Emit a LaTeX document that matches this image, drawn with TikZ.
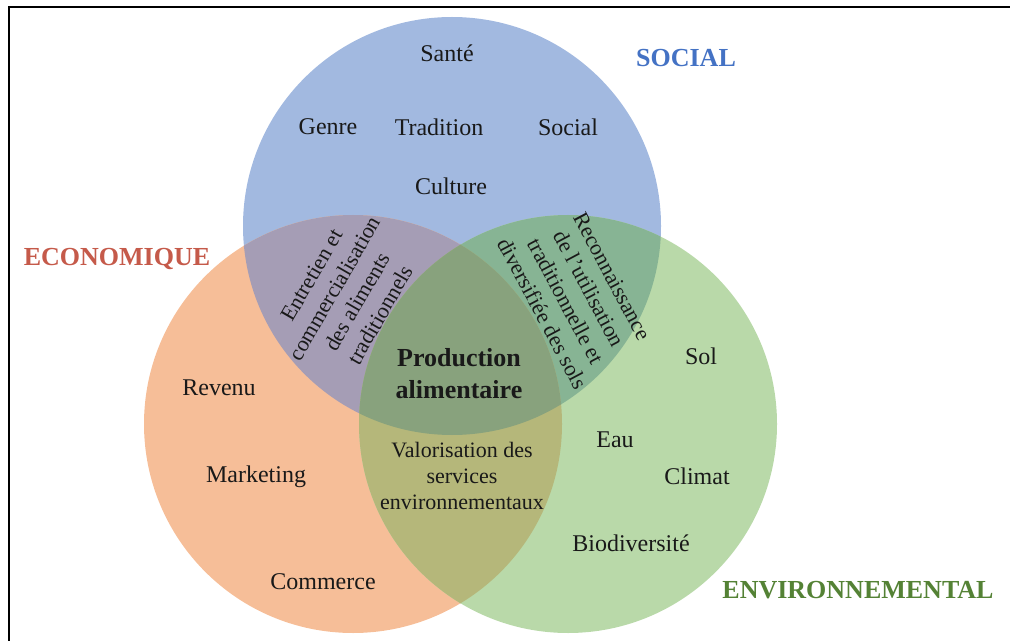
\documentclass[tikz,border=0pt]{standalone}
\usepackage{fontspec}
\setmainfont{Liberation Serif}
\definecolor{socC}{HTML}{A2B9E0}
\definecolor{ecoC}{HTML}{F6BE98}
\definecolor{envC}{HTML}{B9D9A9}
\definecolor{seC}{HTML}{A59DB5}
\definecolor{snC}{HTML}{87B494}
\definecolor{enC}{HTML}{B5B77A}
\definecolor{allC}{HTML}{88A27D}
\definecolor{socT}{HTML}{4472C4}
\definecolor{ecoT}{HTML}{C55A4A}
\definecolor{envT}{HTML}{548235}
\begin{document}
\begin{tikzpicture}[x=0.5pt,y=-0.5pt,
  lbl/.style={font=\fontsize{12}{12.5}\selectfont, text=black!90, inner sep=0pt, align=center},
  small/.style={lbl, font=\fontsize{11}{12.8}\selectfont},
  rot/.style={lbl, font=\fontsize{11}{13.2}\selectfont},
  ttl/.style={font=\fontsize{13}{15}\selectfont\bfseries, inner sep=0pt},
  frameline/.style={line width=1pt, black}]
\useasboundingbox (0,0) rectangle (1010,641);
\coordinate (cs) at (452,226);
\coordinate (ce) at (353,424);
\coordinate (cn) at (568,424);
\def\R{104.5pt}
% base circles
\fill[socC] (cs) circle[radius=\R];
\fill[ecoC] (ce) circle[radius=\R];
\fill[envC] (cn) circle[radius=\R];
% pairwise overlaps
\begin{scope}
  \clip (cs) circle[radius=\R];
  \fill[seC] (ce) circle[radius=\R];
  \fill[snC] (cn) circle[radius=\R];
\end{scope}
\begin{scope}
  \clip (ce) circle[radius=\R];
  \fill[enC] (cn) circle[radius=\R];
  \clip (cn) circle[radius=\R];
  \fill[allC] (cs) circle[radius=\R];
\end{scope}
% frame
\coordinate (fbl) at (8.5,641);
\coordinate (ftl) at (8.5,7.5);
\coordinate (ftr) at (1010,7.5);
\draw[frameline] (fbl) -- (ftl) -- (ftr);
% titles
\node[ttl, text=socT] (tsoc) at (686,58) {SOCIAL};
\node[ttl, text=ecoT] (teco) at (117,259) {ECONOMIQUE};
\node[ttl, text=envT] (tenv) at (858,590) {ENVIRONNEMENTAL};
% social words
\node[lbl] (sante) at (447,53) {Santé};
\node[lbl] (genre) at (328,127) {Genre};
\node[lbl] (trad) at (439,127) {Tradition};
\node[lbl] (soci) at (568,127) {Social};
\node[lbl] (cult) at (451,186) {Culture};
% economic words
\node[lbl] (rev) at (219,388) {Revenu};
\node[lbl] (mkt) at (256,477) {Marketing};
\node[lbl] (com) at (323,582) {Commerce};
% environment words
\node[lbl] (sol) at (701,356) {Sol};
\node[lbl] (eau) at (615,440) {Eau};
\node[lbl] (clim) at (697,476) {Climat};
\node[lbl] (bio) at (631,543) {Biodiversité};
% center
\node[lbl, font=\fontsize{13}{16}\selectfont\bfseries] (prod) at (459,374) {Production\\alimentaire};
\node[small] (valo) at (462,476) {Valorisation des\\services\\environnementaux};
% rotated overlaps
\node[rot, rotate=60] (entr) at (346,295) {Entretien et\\commercialisation\\des aliments\\traditionnels};
\node[rot, rotate=-62] (reco) at (577,295) {Reconnaissance\\de l'utilisation\\traditionnelle et\\diversifiée des sols};
\end{tikzpicture}
\end{document}
